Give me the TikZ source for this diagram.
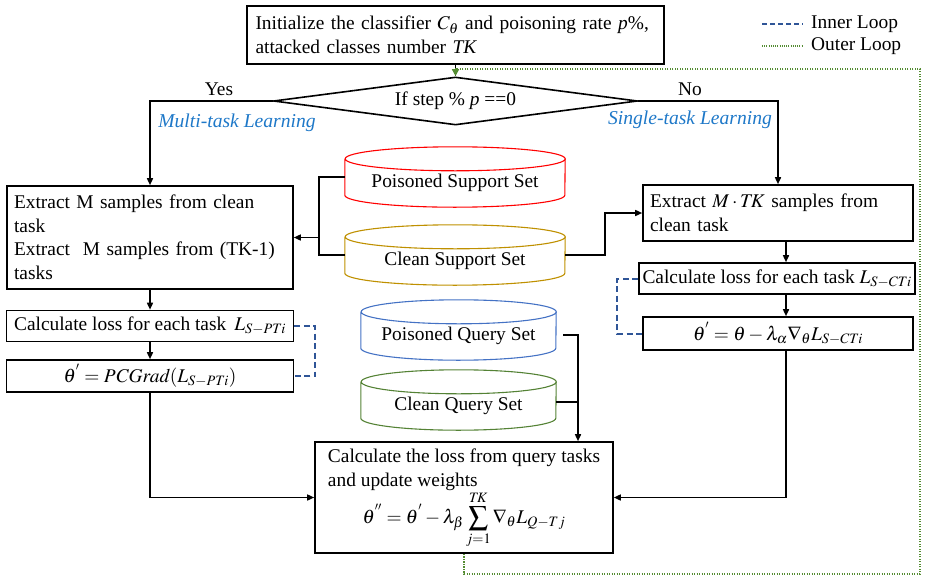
\documentclass[tikz,border=0pt]{standalone}
\usepackage{mathptmx}
\usepackage[no-math]{fontspec}
\setmainfont{Liberation Serif}
\usetikzlibrary{arrows.meta,shapes.geometric}
\definecolor{cred}{RGB}{255,0,0}
\definecolor{cgold}{RGB}{191,144,0}
\definecolor{cblue}{RGB}{68,114,196}
\definecolor{cgreen}{RGB}{84,130,53}
\definecolor{ldash}{RGB}{47,85,151}
\definecolor{ldot}{RGB}{84,140,50}
\definecolor{lbl}{RGB}{30,120,200}
\newcommand\fs{\fontsize{19.4}{23.5}\selectfont}
\newcommand\cylbody[3]{%
  \draw[#2, line width=1.1pt] ([yshift=-12pt]#1.north west) -- ([yshift=12pt]#1.south west)
    arc[start angle=180, end angle=360, x radius=#3pt, y radius=12pt]
    -- ([yshift=-12pt]#1.north east)
    arc[start angle=0, end angle=360, x radius=#3pt, y radius=12pt];}
\tikzset{
  box/.style={draw, line width=1.6pt, font=\fs, inner sep=0pt, align=left},
  cyl/.style={inner sep=0pt, minimum height=60pt},
  cyltext/.style={font=\fs, inner sep=0pt},
  line/.style={draw, line width=1.5pt},
  arr/.style={line, -{Triangle[length=7pt,width=6pt]}},
  innerloop/.style={draw=ldash, line width=2pt, dash pattern=on 6pt off 3.5pt},
  outerloop/.style={draw=ldot, line width=1.5pt, dash pattern=on 1.2pt off 1.3pt, -{Triangle[length=7pt,width=7pt]}},
  lab/.style={font=\fs, inner sep=0pt},
  blab/.style={font=\fontsize{19.6}{23}\selectfont\itshape, text=lbl, inner sep=0pt}
}
\begin{document}
\begin{tikzpicture}[x=1pt,y=-1pt]
\useasboundingbox (0,0) rectangle (928,581);
% top box
\node[box, minimum width=417pt, minimum height=58pt, text width=400pt] (top) at (455.5,35)
  {Initialize the classifier $C_\theta$ and poisoning rate \textit{p}\%,\\attacked classes number \textit{TK}};
% diamond
\node[draw, line width=1.6pt, diamond, aspect=7.6, minimum width=364pt, minimum height=48pt, inner sep=0pt, font=\fs] (dia) at (455.5,101) {If step \% \textit{p} ==0};
% left column
\node[box, minimum width=286pt, minimum height=103pt, text width=272pt] (lb1) at (150,237.5)
  {Extract M samples from clean\\task\\Extract\ \ M samples from (TK-1)\\tasks};
\node[box, minimum width=287pt, minimum height=31pt] (lb2) at (150,326)
  {Calculate loss for each task \,$L_{S-PTi}$};
\node[box, align=center, minimum width=287pt, minimum height=32pt] (lb3) at (150,376)
  {$\theta^{'} = \mathit{PCGrad}(L_{S-PTi})$};
% right column
\node[box, minimum width=270pt, minimum height=56pt, text width=256pt] (rb1) at (778,213)
  {Extract $M\cdot \mathit{TK}$ samples from\\clean task};
\node[box, align=center, minimum width=276pt, minimum height=31pt] (rb2) at (777,278.5)
  {Calculate loss for each task $L_{S-CTi}$};
\node[box, align=center, minimum width=270pt, minimum height=33pt] (rb3) at (778,333.5)
  {$\theta^{'} = \theta - \lambda_\alpha \nabla_\theta L_{S-CTi}$};
% final box
\node[box, align=center, minimum width=298pt, minimum height=111pt] (fin) at (464,497.5)
  {\begin{tabular}{@{}l@{}}Calculate the loss from query tasks\\and update weights\end{tabular}\\[-3pt]
   $\displaystyle \theta^{''} = \theta^{'} - \lambda_\beta \sum_{j=1}^{\mathit{TK}} \nabla_\theta L_{Q-Tj}$};
% cylinders
\node[cyl, minimum width=220pt] (ps) at (455,177) {};
\node[cyl, minimum width=220pt] (cs) at (455,255) {};
\node[cyl, minimum width=195pt] (pq) at (458.5,330) {};
\node[cyl, minimum width=195pt] (cq) at (458.5,400) {};
\cylbody{ps}{cred}{110}
\cylbody{cs}{cgold}{110}
\cylbody{pq}{cblue}{97.5}
\cylbody{cq}{cgreen}{97.5}
\node[cyltext] (pst) at ([yshift=-6pt]ps.center) {Poisoned Support Set};
\node[cyltext] (cst) at ([yshift=-6pt]cs.center) {Clean Support Set};
\node[cyltext] (pqt) at ([yshift=-6pt]pq.center) {Poisoned Query Set};
\node[cyltext] (cqt) at ([yshift=-6pt]cq.center) {Clean Query Set};
% labels
\node[lab] (yes) at (219,89) {Yes};
\node[lab] (no) at (690,89) {No};
\node[blab] (mtl) at (237,123) {Multi-task Learning};
\node[blab] (stl) at (690,120) {Single-task Learning};
% helper coordinates
\coordinate (bx) at (319,0);
\coordinate (sx) at (605,0);
\coordinate (qx) at (578,0);
\coordinate (rx) at (786,0);
\coordinate (oc) at (455.5,69);
% connectors
\draw[line] (top.south) -- (dia.north);
\draw[arr] (dia.west) -| (lb1.north);
\draw[arr] (dia.east) -| (rb1.north);
\draw[arr] (lb1.south) -- (lb2.north);
\draw[arr] (lb2.south) -- (lb3.north);
\draw[arr] (lb3.south) |- (fin.west);
\draw[arr] (rb1.south -| rx) -- (rb2.north -| rx);
\draw[arr] (rb2.south -| rx) -- (rb3.north -| rx);
\draw[arr] (rb3.south -| rx) |- (fin.east);
\draw[line] (ps.west) -- (ps.west -| bx) -- (cs.west -| bx) -- (cs.west);
\draw[arr] (lb1.east -| bx) -- (lb1.east);
\draw[arr] (cs.east) -- (cs.east -| sx) |- (rb1.west);
\draw[arr] ([xshift=7pt,yshift=-5pt]pq.east) -- ([yshift=-5pt]pq.east -| qx) -- (fin.north -| qx);
\draw[line] ([yshift=-2pt]cq.east) -- ([yshift=-2pt]cq.east -| qx);
% inner loops
\draw[innerloop] (lb2.east) -- ++(21,0) |- (lb3.east);
\draw[innerloop] (rb2.west) -- ++(-21,0) |- (rb3.west);
% outer loop
\draw[outerloop] (fin.south) -- ++(0,20) -| (920,69) -- (oc) -- (dia.north);
% legend
\coordinate (l1a) at (762,24);
\coordinate (l1b) at (803,24);
\coordinate (l2a) at (762,46);
\coordinate (l2b) at (803,46);
\draw[innerloop, line width=1.5pt, dash pattern=on 5pt off 3pt] (l1a) -- (l1b);
\draw[draw=ldot, line width=1.3pt, dash pattern=on 1pt off 1.2pt] (l2a) -- (l2b);
\node[lab, anchor=west] (lt1) at (811,24) {Inner Loop};
\node[lab, anchor=west] (lt2) at (811,46) {Outer Loop};
\end{tikzpicture}
\end{document}
